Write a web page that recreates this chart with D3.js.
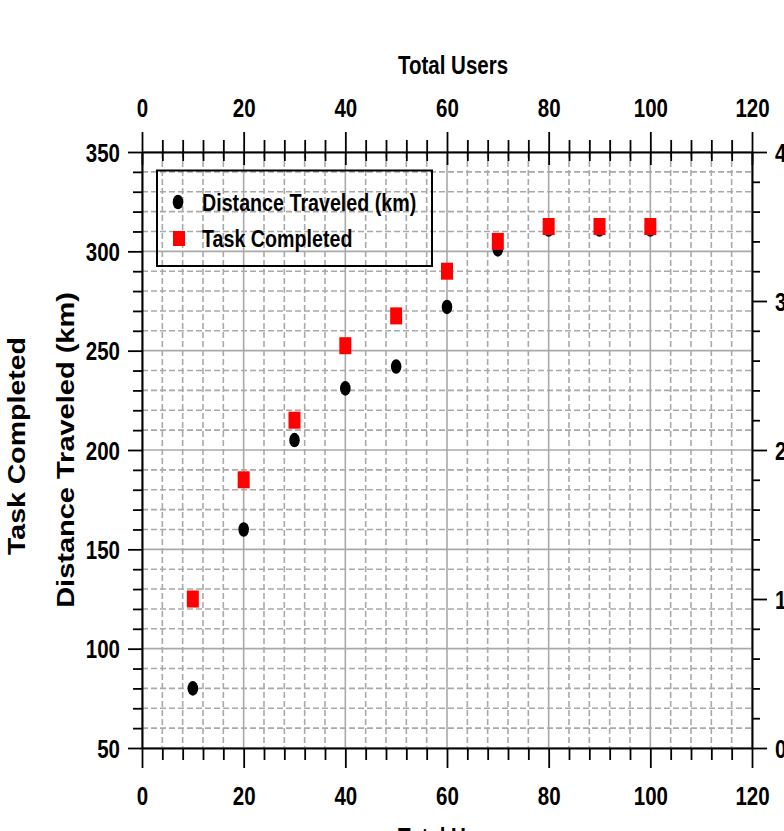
<!DOCTYPE html>
<html>
<head>
<meta charset="utf-8">
<script src="https://cdn.jsdelivr.net/npm/d3@7"></script>
<style>
  body { margin: 0; background: #fff; }
  svg { display: block; }
  text { font-family: "Liberation Sans", Arial, sans-serif; font-weight: bold; fill: #000; }
</style>
</head>
<body>
<div id="chart"></div>
<script>
// data
var users    = [10, 20, 30, 40, 50, 60, 70, 80, 90, 100];
var distance = [80, 160, 205, 231, 242, 272, 301, 311, 311, 311];
var tasks    = [1.0, 1.8, 2.2, 2.7, 2.9, 3.2, 3.4, 3.5, 3.5, 3.5];

var xMajor = [0, 20, 40, 60, 80, 100, 120];
var leftMajor = [50, 100, 150, 200, 250, 300, 350];
var rightMajor = [0, 1, 2, 3, 4];

var xTitle = "Total Users";
var leftTitle = "Distance Traveled (km)";
var farTitle = "Task Completed";
var legendNames = ["Distance Traveled (km)", "Task Completed"];

function draw() {
  var W = 784, H = 831;
  var box = {left: 142, right: 752, top: 152, bottom: 748};
  var squeeze = 0.82;   // the lettering in the picture is narrow

  var x = d3.scaleLinear().domain([0, 120]).range([box.left, box.right]);
  var yL = d3.scaleLinear().domain([50, 350]).range([box.bottom, box.top]);
  var yR = d3.scaleLinear().domain([0, 4]).range([box.bottom, box.top]);

  var xMinor = d3.range(0, 121, 4).filter(function(v) { return v % 20 !== 0; });
  var leftMinor = d3.range(50, 351, 10).filter(function(v) { return v % 50 !== 0; });
  var rightMinor = d3.range(0, 21).filter(function(i) { return i % 5 !== 0; }).map(function(i) { return i / 5; });

  var svg = d3.select("#chart").append("svg")
    .attr("width", W)
    .attr("height", H);

  // grid
  var grid = svg.append("g").attr("stroke", "#a9a9a9").attr("stroke-width", 1.6);
  grid.selectAll(".vmin").data(xMinor).enter().append("line")
    .attr("x1", function(d) { return x(d); }).attr("x2", function(d) { return x(d); })
    .attr("y1", box.top).attr("y2", box.bottom)
    .attr("stroke-dasharray", "6,3");
  grid.selectAll(".hmin").data(leftMinor).enter().append("line")
    .attr("y1", function(d) { return yL(d); }).attr("y2", function(d) { return yL(d); })
    .attr("x1", box.left).attr("x2", box.right)
    .attr("stroke-dasharray", "6,3");
  grid.selectAll(".vmaj").data(xMajor).enter().append("line")
    .attr("x1", function(d) { return x(d); }).attr("x2", function(d) { return x(d); })
    .attr("y1", box.top).attr("y2", box.bottom);
  grid.selectAll(".hmaj").data(leftMajor).enter().append("line")
    .attr("y1", function(d) { return yL(d); }).attr("y2", function(d) { return yL(d); })
    .attr("x1", box.left).attr("x2", box.right);

  // axes
  function styleAxis(g) {
    g.select(".domain").attr("stroke", "#000").attr("stroke-width", 2);
    g.selectAll(".tick line").attr("stroke", "#000").attr("stroke-width", 1.8);
    g.selectAll("text").attr("font-size", 25)
      .attr("transform", "scale(" + squeeze + ",1)");
    g.attr("font-family", null).attr("font-size", 25);
  }

  function minorAxis(axis, pos) {
    var g = svg.append("g").attr("transform", pos)
      .call(axis.tickFormat("").tickSizeOuter(0));
    g.select(".domain").remove();
    g.selectAll(".tick line").attr("stroke", "#000").attr("stroke-width", 1.8);
    return g;
  }

  // top
  var axTop = svg.append("g").attr("transform", "translate(0," + box.top + ")")
    .call(d3.axisTop(x).tickValues(xMajor).tickSize(20).tickSizeOuter(0));
  styleAxis(axTop);
  axTop.selectAll(".tick line").attr("y1", 13);
  axTop.selectAll("text").attr("y", -35).attr("dy", 0);
  minorAxis(d3.axisTop(x).tickValues(xMinor).tickSize(12), "translate(0," + box.top + ")")
    .selectAll(".tick line").attr("y1", 9);

  // bottom
  var axBottom = svg.append("g").attr("transform", "translate(0," + box.bottom + ")")
    .call(d3.axisBottom(x).tickValues(xMajor).tickSize(20).tickSizeOuter(0));
  styleAxis(axBottom);
  axBottom.selectAll("text").attr("y", 57).attr("dy", 0);
  minorAxis(d3.axisBottom(x).tickValues(xMinor).tickSize(12), "translate(0," + box.bottom + ")");

  // left
  var axLeft = svg.append("g").attr("transform", "translate(" + box.left + ",0)")
    .call(d3.axisLeft(yL).tickValues(leftMajor).tickSize(14).tickSizeOuter(0));
  styleAxis(axLeft);
  axLeft.selectAll("text").attr("x", -22 / squeeze).attr("dy", "0.36em");
  minorAxis(d3.axisLeft(yL).tickValues(leftMinor).tickSize(9), "translate(" + box.left + ",0)");

  // right (labels run off the edge, as in the picture)
  var axRight = svg.append("g").attr("transform", "translate(" + box.right + ",0)")
    .call(d3.axisRight(yR).tickValues(rightMajor).tickSize(15).tickSizeOuter(0));
  styleAxis(axRight);
  axRight.selectAll("text").attr("x", 23 / squeeze).attr("dy", "0.36em");
  minorAxis(d3.axisRight(yR).tickValues(rightMinor).tickSize(8), "translate(" + box.right + ",0)");

  // titles
  svg.append("g").attr("transform", "translate(453,74) scale(" + squeeze + ",1)")
    .append("text").attr("text-anchor", "middle").attr("font-size", 25).text(xTitle);
  svg.append("g").attr("transform", "translate(453,846) scale(" + squeeze + ",1)")
    .append("text").attr("text-anchor", "middle").attr("font-size", 25).text(xTitle);
  svg.append("g").attr("transform", "translate(74,450) scale(" + squeeze + ",1) rotate(-90)")
    .append("text").attr("text-anchor", "middle").attr("font-size", 29).text(leftTitle);
  svg.append("g").attr("transform", "translate(25,446) scale(" + squeeze + ",1) rotate(-90)")
    .append("text").attr("text-anchor", "middle").attr("font-size", 28.5).text(farTitle);

  // marks
  svg.append("g").selectAll("ellipse").data(users).enter().append("ellipse")
    .attr("cx", function(d) { return x(d); })
    .attr("cy", function(d, i) { return yL(distance[i]); })
    .attr("rx", 5.3).attr("ry", 7.3)
    .attr("fill", "#000");
  svg.append("g").selectAll("rect").data(users).enter().append("rect")
    .attr("x", function(d) { return x(d) - 6; })
    .attr("y", function(d, i) { return yR(tasks[i]) - 8.5; })
    .attr("width", 12).attr("height", 17)
    .attr("fill", "#ff0000");

  // legend
  var lg = svg.append("g");
  lg.append("rect")
    .attr("x", 157).attr("y", 170.5).attr("width", 275).attr("height", 95.5)
    .attr("fill", "none").attr("stroke", "#000").attr("stroke-width", 2);
  lg.append("ellipse").attr("cx", 178).attr("cy", 202).attr("rx", 5.3).attr("ry", 7.3).attr("fill", "#000");
  lg.append("rect").attr("x", 173).attr("y", 231).attr("width", 12).attr("height", 15).attr("fill", "#ff0000");
  legendNames.forEach(function(name, i) {
    lg.append("g").attr("transform", "translate(202," + (211 + i * 36) + ") scale(" + squeeze + ",1)")
      .append("text").attr("font-size", 24).text(name);
  });
}

document.addEventListener("DOMContentLoaded", draw);
</script>
</body>
</html>
